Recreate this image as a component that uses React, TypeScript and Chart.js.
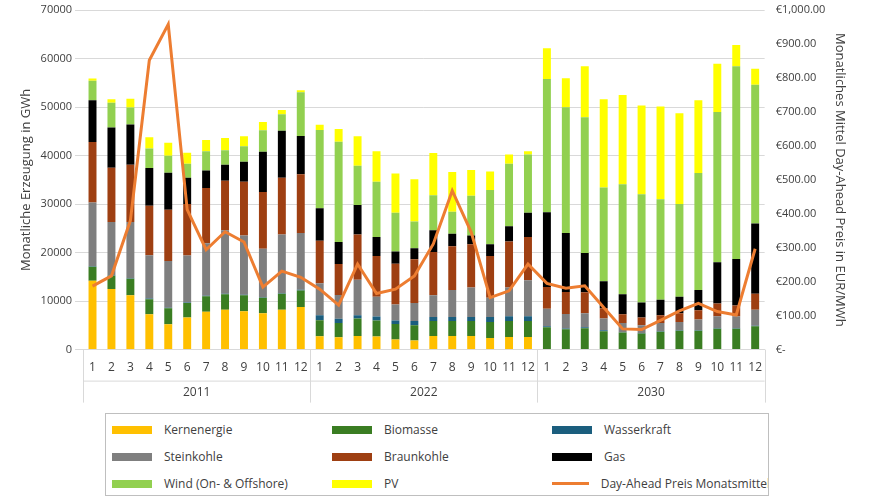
import React, { useEffect, useRef } from "react";
import { Chart, registerables } from "chart.js";

Chart.register(...registerables);

const years = ["2011", "2022", "2030"];
const months = ["1", "2", "3", "4", "5", "6", "7", "8", "9", "10", "11", "12"];
const labels = years.flatMap(() => months);

const kernenergie = [14200, 12500, 11200, 7300, 5200, 6600, 7800, 8200, 7900, 7500, 8200, 8800, 2760, 2560, 2800, 2700, 2100, 1900, 2800, 2800, 2800, 2400, 2600, 2600, 0, 0, 0, 0, 0, 0, 0, 0, 0, 0, 0, 0];
const biomasse = [2900, 2700, 3400, 3100, 3300, 3000, 3200, 3200, 3300, 3200, 3300, 3400, 3300, 2900, 3600, 3300, 3200, 3100, 3100, 3100, 3100, 3300, 3300, 3300, 4600, 4200, 4400, 3800, 3500, 3300, 3700, 3900, 3900, 4300, 4300, 4800];
const wasserkraft = [100, 100, 100, 150, 150, 100, 100, 100, 100, 100, 100, 150, 1000, 900, 700, 800, 700, 900, 800, 800, 800, 1000, 1000, 1000, 200, 150, 200, 200, 100, 100, 100, 100, 100, 100, 100, 100];
const steinkohle = [13100, 11000, 11600, 8900, 9600, 9700, 10800, 13100, 12200, 10000, 12100, 11700, 6600, 4900, 7300, 4100, 3300, 3700, 4500, 5600, 6100, 4000, 5900, 7400, 3600, 3000, 2900, 2400, 1900, 1600, 1700, 1700, 2200, 2500, 2500, 3300];
const braunkohle = [12500, 11200, 11800, 10200, 10600, 10600, 11400, 10200, 11100, 11700, 11700, 12100, 8800, 6400, 9300, 8400, 8400, 9000, 8900, 9000, 8900, 8600, 9500, 8900, 4500, 4500, 4300, 2100, 1800, 1600, 1600, 1800, 1900, 2600, 2200, 3300];
const gas = [8600, 8300, 8300, 7800, 7600, 5400, 3600, 3300, 4100, 8300, 9700, 7900, 6700, 4500, 6100, 3900, 2500, 2300, 4500, 2600, 1800, 2400, 3100, 5000, 15400, 12200, 8100, 5600, 4100, 3100, 3200, 3400, 4200, 8500, 9600, 14500];
const wind = [4000, 5100, 3500, 4000, 3500, 2900, 4000, 3000, 3200, 4400, 3400, 9000, 16100, 20700, 8100, 11400, 8000, 5500, 7200, 4500, 8200, 11200, 12900, 12000, 27500, 25900, 28000, 19300, 22700, 22300, 20700, 19100, 24100, 31000, 39700, 28600];
const pv = [500, 700, 1800, 2300, 2700, 2300, 2300, 2500, 2100, 1700, 900, 400, 1100, 2600, 6100, 6300, 8100, 8700, 8700, 8200, 5300, 3800, 1900, 700, 6300, 6000, 10500, 18200, 18400, 18300, 19100, 18700, 15000, 9900, 4400, 3300];
const preis = [187, 217, 380, 852, 958, 412, 294, 347, 317, 184, 231, 213, 178, 131, 252, 165, 178, 217, 311, 468, 346, 153, 173, 252, 195, 181, 188, 124, 61, 59, 86, 114, 136, 112, 102, 297];

const bars = [
  { label: "Kernenergie", data: kernenergie, color: "#FFC000" },
  { label: "Biomasse", data: biomasse, color: "#3A7D22" },
  { label: "Wasserkraft", data: wasserkraft, color: "#1B5E7E" },
  { label: "Steinkohle", data: steinkohle, color: "#7F7F7F" },
  { label: "Braunkohle", data: braunkohle, color: "#9E3F12" },
  { label: "Gas", data: gas, color: "#000000" },
  { label: "Wind (On- & Offshore)", data: wind, color: "#92D050" },
  { label: "PV", data: pv, color: "#FFFF00" },
];

const FONT = "'Open Sans', sans-serif";

// year row + separators under the month ticks
const groupPlugin = {
  id: "groups",
  afterDraw(chart: Chart) {
    const { ctx, scales } = chart;
    const x = scales.x;
    const area = chart.chartArea;
    const step = x.getPixelForValue(1) - x.getPixelForValue(0);
    ctx.save();
    ctx.strokeStyle = "#d9d9d9";
    ctx.lineWidth = 1;
    const top = area.bottom;
    const bottom = area.bottom + 53;
    ctx.beginPath();
    for (let g = 0; g <= years.length; g++) {
      const px = Math.round(x.getPixelForValue(g * 12) - step / 2) + 0.5;
      ctx.moveTo(px, top);
      ctx.lineTo(px, bottom);
    }
    ctx.moveTo(x.getPixelForValue(0) - step / 2, area.bottom + 31.5);
    ctx.lineTo(x.getPixelForValue(35) + step / 2, area.bottom + 31.5);
    ctx.stroke();
    ctx.fillStyle = "#404040";
    ctx.font = `12px ${FONT}`;
    ctx.textAlign = "center";
    ctx.textBaseline = "middle";
    years.forEach((y, g) => {
      const cx = (x.getPixelForValue(g * 12) + x.getPixelForValue(g * 12 + 11)) / 2;
      ctx.fillText(y, cx, area.bottom + 43);
    });
    ctx.restore();
  },
};

export default function App() {
  const canvasRef = useRef<HTMLCanvasElement | null>(null);

  useEffect(() => {
    if (!canvasRef.current) return;
    const chart = new Chart(canvasRef.current, {
      type: "bar",
      data: {
        labels,
        datasets: [
          {
            type: "line",
            label: "Day-Ahead Preis Monatsmittel",
            data: preis,
            yAxisID: "y1",
            borderColor: "#ED7D31",
            borderWidth: 3,
            pointRadius: 0,
            tension: 0,
            order: 0,
          } as any,
          ...bars.map((b) => ({
            label: b.label,
            data: b.data,
            backgroundColor: b.color,
            yAxisID: "y",
            barPercentage: 0.42,
            categoryPercentage: 1,
            order: 1,
          })),
        ],
      },
      options: {
        animation: false,
        responsive: true,
        maintainAspectRatio: false,
        layout: { padding: { top: 10, bottom: 34, left: 14, right: 20 } },
        plugins: { legend: { display: false }, tooltip: { enabled: false } },
        scales: {
          x: {
            stacked: true,
            grid: { display: false },
            border: { color: "#d9d9d9" },
            ticks: { color: "#404040", font: { family: FONT, size: 12 }, maxRotation: 0, autoSkip: false },
          },
          y: {
            stacked: true,
            min: 0,
            max: 70000,
            ticks: { stepSize: 10000, color: "#404040", font: { family: FONT, size: 11 }, callback: (v) => String(v) },
            grid: { color: "#d9d9d9" },
            border: { display: false },
            title: { display: true, text: "Monatliche Erzeugung in GWh", color: "#404040", font: { family: FONT, size: 13 } },
          },
          y1: {
            position: "right",
            min: 0,
            max: 1000,
            ticks: {
              stepSize: 100,
              color: "#404040",
              font: { family: FONT, size: 11 },
              callback: (v) =>
                Number(v) === 0 ? "€-" : "€" + Number(v).toLocaleString("en-US", { minimumFractionDigits: 2 }),
            },
            grid: { display: false },
            border: { display: false },
            title: { display: true, text: "Monatliches Mittel Day-Ahead Preis in EUR/MWh", color: "#404040", font: { family: FONT, size: 13 } },
          },
        },
      },
      plugins: [groupPlugin],
    });
    return () => chart.destroy();
  }, []);

  const legendItems = [...bars.map((b) => ({ label: b.label, color: b.color, line: false })), { label: "Day-Ahead Preis Monatsmittel", color: "#ED7D31", line: true }];

  return (
    <div style={{ position: "absolute", left: 0, top: 0, width: 872, height: 503, background: "#fff", fontFamily: FONT }}>
      <div style={{ position: "absolute", left: 0, top: 0, width: 872, height: 412 }}>
        <canvas ref={canvasRef} />
      </div>
      <div
        style={{
          position: "absolute",
          left: 105,
          top: 413,
          width: 664,
          height: 83,
          border: "1px solid #bfbfbf",
          overflow: "hidden",
          display: "grid",
          gridTemplateColumns: "220px 220px 224px",
          gridAutoRows: "27px",
          alignItems: "center",
          paddingTop: 2,
          boxSizing: "border-box",
        }}
      >
        {legendItems.map((it) => (
          <div key={it.label} style={{ display: "flex", alignItems: "center", fontSize: 12, color: "#404040", whiteSpace: "nowrap", paddingLeft: 6 }}>
            <span
              style={{
                display: "inline-block",
                width: 40,
                height: it.line ? 3 : 8,
                background: it.color,
                marginRight: 12,
              }}
            />
            {it.label}
          </div>
        ))}
      </div>
    </div>
  );
}
